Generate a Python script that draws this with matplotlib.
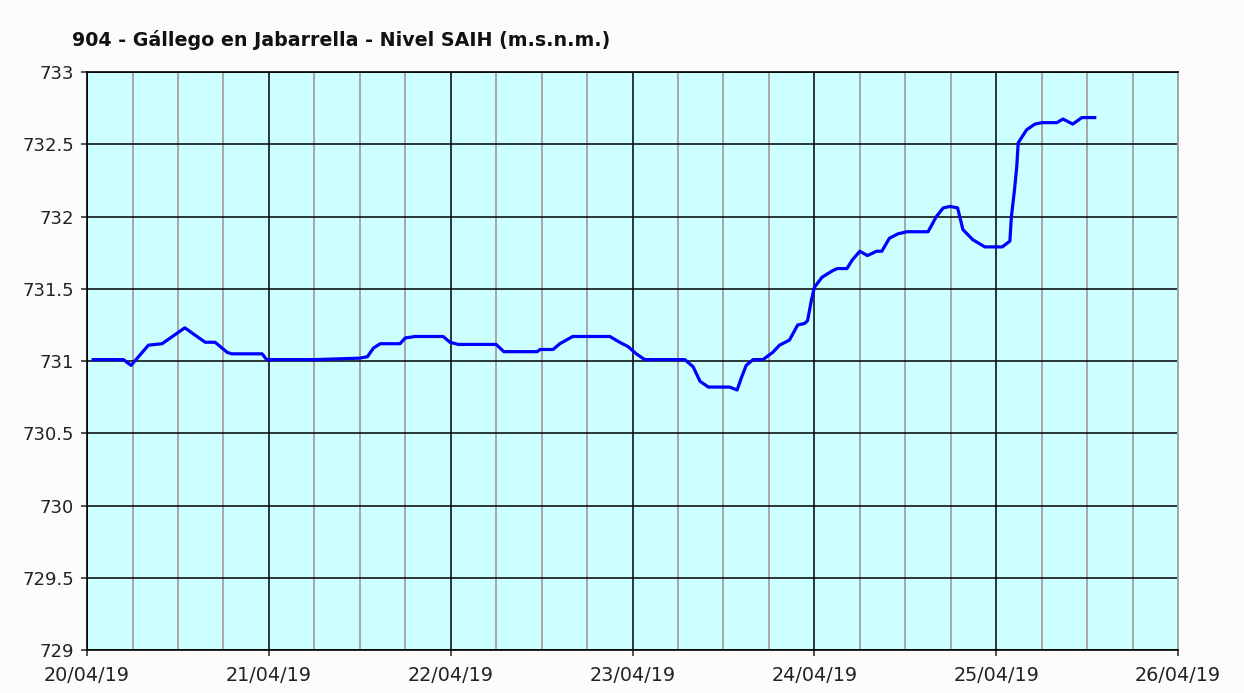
import matplotlib
matplotlib.use('Agg')
import matplotlib.pyplot as plt
import matplotlib.dates as mdates
import pandas as pd

fig_width = 12.44
fig_height = 6.93
fig_dpi = 100
line_color = '#0000ff'
plot_bg = '#ccffff'
major_color = '#000000'
minor_color = '#a6a6a6'

title = '904 - Gállego en Jabarrella - Nivel SAIH (m.s.n.m.)'
start = pd.Timestamp('2019-04-20 00:00')

# hours since 20/04/19 00:00 and level (m.s.n.m.)
hours = [0.8, 4.8, 5.8, 8.1, 9.9, 12.9, 14.5, 15.6, 16.9, 18.5, 19.1, 23.1,
         23.7, 25.0, 30.0, 36.0, 37.0, 37.8, 38.7, 41.3, 42.0, 43.3, 47.0,
         47.9, 49.0, 54.0, 55.0, 59.4, 59.8, 61.5, 62.4, 64.1, 69.0, 70.3,
         71.4, 72.5, 73.6, 78.9, 80.0, 80.9, 82.0, 84.8, 85.8, 86.4, 87.0,
         87.9, 89.2, 90.5, 91.4, 92.7, 93.8, 94.7, 95.1, 95.6, 96.0, 97.0,
         98.4, 99.0, 100.3, 101.0, 102.0, 103.0, 104.2, 104.9, 105.9, 107.0,
         108.2, 111.0, 112.1, 113.0, 113.9, 114.9, 115.6, 116.9, 118.5,
         120.8, 121.8, 122.0, 122.4, 122.7, 122.9, 124.0, 125.1, 126.1,
         128.0, 128.8, 130.1, 131.3, 133.0]
level = [731.01, 731.01, 730.97, 731.11, 731.12, 731.23, 731.17, 731.13,
         731.13, 731.06, 731.05, 731.05, 731.01, 731.01, 731.01, 731.02,
         731.03, 731.09, 731.12, 731.12, 731.16, 731.17, 731.17, 731.13,
         731.115, 731.115, 731.065, 731.065, 731.08, 731.08, 731.12, 731.17,
         731.17, 731.13, 731.10, 731.05, 731.01, 731.01, 730.96, 730.86,
         730.82, 730.82, 730.80, 730.89, 730.97, 731.01, 731.01, 731.06,
         731.11, 731.145, 731.25, 731.26, 731.28, 731.42, 731.51, 731.58,
         731.625, 731.64, 731.64, 731.70, 731.76, 731.73, 731.76, 731.76,
         731.85, 731.88, 731.895, 731.895, 732.0, 732.06, 732.07, 732.06,
         731.91, 731.84, 731.79, 731.79, 731.83, 732.0, 732.18, 732.34,
         732.51, 732.60, 732.64, 732.65, 732.65, 732.675, 732.64, 732.685,
         732.685]

y_ticks = [729, 729.5, 730, 730.5, 731, 731.5, 732, 732.5, 733]
y_labels = ['729', '729.5', '730', '730.5', '731', '731.5', '732', '732.5', '733']

times = [start + pd.Timedelta(hours=h) for h in hours]

fig = plt.figure(figsize=(fig_width, fig_height), dpi=fig_dpi, facecolor='#fcfcfc')
ax = fig.add_axes([0.070, 0.062, 0.877, 0.834])
ax.set_facecolor(plot_bg)

ax.plot(times, level, color=line_color, linewidth=2.3, zorder=3)

ax.set_xlim(start, start + pd.Timedelta(days=6))
ax.set_ylim(729, 733)
ax.set_yticks(y_ticks)
ax.set_yticklabels(y_labels)

ax.xaxis.set_major_locator(mdates.DayLocator())
ax.xaxis.set_major_formatter(mdates.DateFormatter('%d/%m/%y'))
ax.xaxis.set_minor_locator(mdates.HourLocator(byhour=[6, 12, 18]))

ax.grid(which='major', axis='both', color=major_color, linewidth=1.1, zorder=1)
ax.grid(which='minor', axis='x', color=minor_color, linewidth=1.4, zorder=1)
ax.set_axisbelow(True)

ax.tick_params(axis='both', which='major', colors='#222222',
               direction='out', length=4.5, width=1.1)
ax.tick_params(axis='y', which='major', labelsize=13, pad=5)
ax.tick_params(axis='x', which='major', labelsize=13.8, pad=7)
ax.tick_params(axis='x', which='minor', length=0)

for side in ['left', 'bottom', 'top']:
    ax.spines[side].set_color(major_color)
    ax.spines[side].set_linewidth(1.2)
ax.spines['right'].set_color(minor_color)
ax.spines['right'].set_linewidth(1.4)

fig.text(0.058, 0.943, title, fontsize=13.7, fontweight='bold', color='#111111',
         ha='left', va='center')

plt.savefig('out.png', dpi=fig_dpi, facecolor=fig.get_facecolor())
plt.close('all')
